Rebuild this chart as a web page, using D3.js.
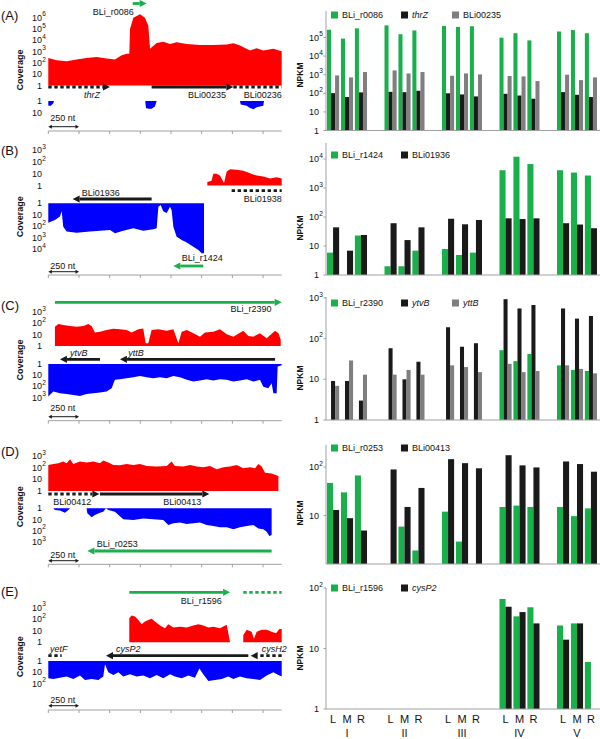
<!DOCTYPE html>
<html><head><meta charset="utf-8">
<script src="https://cdnjs.cloudflare.com/ajax/libs/d3/7.8.5/d3.min.js"></script>
<style>body{margin:0;background:#fff}svg{display:block;font-family:"Liberation Sans",Arial,sans-serif}</style>
</head><body><svg id="c" width="600" height="739"></svg>
<script>
// ---------------- DATA ----------------
const groups = ["I","II","III","IV","V"];
const samples = ["L","M","R"];

// NPKM bar values, order: I-L,I-M,I-R, II-L ... V-R
const seriesA = ["BLi_r0086","thrZ","BLi00235"];
const valuesA = [
  [2.6e5,8.7e4,3.1e5, 4.5e5,1.5e5,2.4e5, 4.2e5,3.7e5,4.0e5, 9.8e4,1.7e5,7e4, 2.1e5,2.5e5,1.7e5],
  [102,63,112, 120,115,137, 100,87,68, 94,76,51, 116,83,63],
  [915,715,1390, 1700,1170,1390, 880,1170,1040, 850,810,455, 1000,510,715]
];
const seriesB = ["BLi_r1424","BLi01936"];
const valuesB = [
  [5.9,null,23, 2.0,2.0,6.9, 7.9,4.9,5.9, 4100,12000,6700, 4100,3400,2700],
  [44,6.9,24, 61,16,44, 87,56,79, 90,85,90, 61,55,41]
];
const seriesC = ["BLi_r2390","ytvB","yttB"];
const valuesC = [
  [null,null,null, null,null,null, null,null,null, 52,28,42, 22,17,16],
  [9.1,9.1,3.0, 58,10,27, 190,63,77, 930,550,670, 550,310,360],
  [6.9,29,13, 13,17,13, 22,20,15, 24,15,16, 22,18,14]
];
const seriesD = ["BLi_r0253","BLi00413"];
const valuesD = [
  [47,30,67, null,5.9,1.9, 12,2.9,null, 15,16,15, 15,9.7,14],
  [13,8.8,4.9, 89,15,37, 145,120,94, 175,108,98, 130,115,80]
];
const seriesE = ["BLi_r1596","cysP2"];
const valuesE = [
  [null,null,null, null,null,null, null,null,null, 66,34,48, 24,26,6.0],
  [null,null,null, null,null,null, null,null,null, 49,40,26, 14,26,null]
];

// Coverage profiles [nt, coverage]; plus = red (upward), minus = blue (downward)
const covA_plus = [[0,269],[68,170],[149,138],[231,195],[312,269],[394,331],[476,240],[543,195],[598,468],[639,646],[660,646],[666,1e5],[693,1e6],[747,2e6],[788,1e6],[815,1.9e5],[829,1780],[883,5900],[937,7600],[992,4800],[1046,6800],[1128,4800],[1236,3900],[1345,3900],[1454,4200],[1508,5500],[1562,3500],[1644,1260],[1698,2000],[1752,1260],[1834,1780],[1902,1100]];
const covA_minus = [[0,2.5],[20,2.5],[40,1.6],[46,1],[790,1],[796,4],[815,4.5],[842,4.5],[869,3],[883,1],[1562,1],[1568,2],[1617,2.5],[1644,4],[1671,5],[1698,3.5],[1725,3],[1752,2.5],[1758,1]];
const covB_plus = [[1296,2],[1330,2.5],[1345,10],[1372,10],[1399,7],[1432,1.6],[1454,16],[1481,25],[1535,22],[1589,18],[1644,11],[1698,7],[1752,6],[1807,4],[1861,5],[1902,4]];
const covB_minus = [[0,48],[54,28],[95,14],[109,5],[122,107],[149,290],[231,355],[340,290],[421,240],[503,210],[543,400],[611,240],[693,150],[774,240],[856,180],[883,150],[897,2],[916,1.4],[937,5],[965,7],[992,2],[1005,4],[1019,107],[1046,800],[1087,1550],[1128,2600],[1182,5900],[1223,11500],[1250,22000],[1269,22000]];
const covC_plus = [[54,49],[82,83],[122,69],[177,56],[231,49],[285,56],[326,83],[353,56],[380,15],[421,18],[475,25],[530,33],[584,29],[638,25],[679,15],[734,29],[774,35],[793,1.7],[815,1.7],[842,25],[897,29],[965,22],[1019,29],[1060,1.7],[1087,18],[1128,25],[1182,13],[1236,6.6],[1277,15],[1345,18],[1399,29],[1454,11],[1508,6.6],[1589,22],[1630,7.4],[1671,6.6],[1725,13],[1780,4.7],[1848,22],[1875,13],[1894,3.8]];
const covC_minus = [[0,810],[41,290],[95,410],[149,470],[204,575],[258,710],[312,470],[367,410],[421,355],[475,290],[516,150],[543,26],[584,23],[638,19],[693,15],[747,12],[802,15],[856,19],[910,15],[965,19],[1019,12],[1073,15],[1128,26],[1182,37],[1236,30],[1291,23],[1345,30],[1399,23],[1454,26],[1508,37],[1562,30],[1617,23],[1671,37],[1725,26],[1752,105],[1793,150],[1820,52],[1834,410],[1861,410],[1869,1.7],[1902,1.3]];
const covD_plus = [[0,170],[41,205],[82,235],[122,325],[149,235],[177,510],[204,205],[258,325],[312,270],[367,325],[421,235],[448,400],[489,270],[530,170],[584,160],[638,205],[693,170],[747,205],[802,138],[883,123],[965,138],[1005,325],[1032,138],[1100,123],[1155,170],[1209,123],[1263,107],[1318,138],[1372,72],[1427,107],[1481,123],[1535,170],[1589,87],[1644,107],[1685,87],[1712,205],[1739,123],[1766,37],[1820,32],[1875,19]];
const covD_minus = [[0,1],[41,1],[54,1.4],[95,1.6],[136,2.5],[163,1.4],[177,1],[312,1],[318,2.8],[353,6.3],[380,4],[421,2.5],[448,2],[470,1],[489,1.4],[543,2],[611,9.5],[693,11],[774,8],[856,9.5],[937,11],[978,31],[1019,22],[1073,19],[1128,25],[1182,22],[1236,19],[1291,31],[1345,38],[1399,50],[1454,50],[1508,76],[1562,50],[1617,38],[1671,31],[1712,62],[1752,76],[1780,123],[1801,300],[1820,245]];
const covE_plus = [[660,117],[679,200],[706,166],[734,85],[761,36],[788,62],[815,85],[842,105],[869,62],[910,28],[951,16],[978,36],[1019,19],[1073,22],[1128,19],[1182,28],[1223,36],[1263,28],[1304,19],[1345,22],[1399,16],[1454,32],[1470,4.3],[1481,1],[1485,null],[1589,4.3],[1617,12],[1657,8.3],[1676,2],[1698,8.3],[1739,12],[1780,12],[1820,8.3],[1856,6],[1883,14],[1902,14]];
const covE_minus = [[0,34],[41,39],[95,30],[149,24],[204,39],[258,19.5],[299,48],[353,39],[408,48],[448,24],[462,1.9],[489,10],[530,17],[571,10],[611,24],[666,15],[720,24],[774,19.5],[829,34],[883,17],[937,34],[992,15],[1032,24],[1087,34],[1141,19.5],[1195,30],[1231,4.5],[1263,15],[1304,58],[1359,48],[1413,39],[1467,24],[1508,39],[1562,24],[1617,34],[1671,39],[1725,48],[1780,19.5],[1834,10],[1875,17],[1902,24]];

// Annotated features (nt coordinates, from -> to gives direction)
const featA = [
  {name:"thrZ", from:0, to:503, kind:"gene", partial:true, head:true},
  {name:"BLi00235", from:842, to:1508, kind:"gene", partial:false, head:true},
  {name:"BLi00236", from:1508, to:1902, kind:"gene", partial:true, head:false},
  {name:"BLi_r0086", from:688, to:802, kind:"srna", partial:false, head:true}
];
const featB = [
  {name:"BLi01936", from:842, to:198, kind:"gene", partial:false, head:true},
  {name:"BLi01938", from:1494, to:1902, kind:"gene", partial:true, head:false},
  {name:"BLi_r1424", from:1263, to:1019, kind:"srna", partial:false, head:true}
];
const featC = [
  {name:"BLi_r2390", from:54, to:1902, kind:"srna", partial:false, head:true},
  {name:"ytvB", from:421, to:95, kind:"gene", partial:false, head:true},
  {name:"yttB", from:1848, to:584, kind:"gene", partial:false, head:true}
];
const featD = [
  {name:"BLi00412", from:0, to:416, kind:"gene", partial:true, head:true},
  {name:"BLi00413", from:421, to:1312, kind:"gene", partial:false, head:true},
  {name:"BLi_r0253", from:1820, to:318, kind:"srna", partial:false, head:true}
];
const featE = [
  {name:"BLi_r1596", from:660, to:1481, kind:"srna", partial:false, head:true},
  {name:"BLi_r1596 (cont.)", from:1589, to:1902, kind:"srna", partial:true, head:false},
  {name:"yetF", from:0, to:109, kind:"gene", partial:true, head:false},
  {name:"cysP2", from:1630, to:470, kind:"gene", partial:false, head:true},
  {name:"cysH2", from:1902, to:1649, kind:"gene", partial:true, head:true}
];
const regionLength = 1902; // nt shown
const scaleBarNt = 250;

// ---------------- STYLE ----------------
const GREEN="#19b04b", RED="#ff0000", BLUE="#0000ff", BLACK="#1a1a1a", GRAY="#7f7f7f", AXIS="#a0a0a0", TXT="#111";
const svg = d3.select("#c");
const xL = d3.scaleLinear().domain([0, regionLength]).range([48.3, 281.7]);

function powText(g, v, xEnd, y, size, supSize){
  const e = Math.round(Math.log10(v));
  if (e <= 1){
    g.append("text").attr("x", xEnd).attr("y", y).attr("text-anchor","end")
      .attr("dominant-baseline","central").style("font-size", size+"px").attr("fill",TXT).text(e===0?"1":"10");
  } else {
    g.append("text").attr("x", xEnd).attr("y", y).attr("text-anchor","end")
      .attr("dominant-baseline","central").style("font-size", size+"px").attr("fill",TXT).text("10");
    g.append("text").attr("x", xEnd+0.3).attr("y", y - size*0.42).attr("text-anchor","start")
      .attr("dominant-baseline","central").style("font-size", supSize+"px").attr("fill",TXT).text(e);
  }
}

function arrow(g, x1, x2, y, color, dashed, head){
  const dir = x2 > x1 ? 1 : -1;
  const hl = head ? 7 : 0, hh = 3.6;
  g.append("line").attr("x1", x1).attr("x2", x2 - dir*hl).attr("y1", y).attr("y2", y)
    .attr("stroke", color).attr("stroke-width", 2.8)
    .attr("stroke-dasharray", dashed ? "3.4,2.6" : null);
  if (head){
    g.append("path").attr("fill", color)
      .attr("d", `M${x2},${y}L${x2-dir*hl},${y-hh}L${x2-dir*hl},${y+hh}Z`);
  }
}

// ---------------- LEFT PANELS ----------------
const LEFT = [
  {id:"(A)", idY:15, plus:covA_plus, minus:covA_minus, feats:featA,
   pBase:85.5, pDec:11.3, pTicks:[1,10,1e2,1e3,1e4,1e5,1e6], mBase:101, mDec:11.7, mTicks:[1,10],
   covY:70, axisY:131, barY:126.7, barTextY:118,
   fy:{"thrZ":87,"BLi00235":87,"BLi00236":87,"BLi_r0086":3.5},
   lab:{"thrZ":[421,95.3,"end"],"BLi00235":[1448,95.3,"end"],"BLi00236":[1902,95.3,"end"],"BLi_r0086":[530,11.7,"middle"]}},
  {id:"(B)", idY:150, plus:covB_plus, minus:covB_minus, feats:featB,
   pBase:185.5, pDec:11.7, pTicks:[1,10,1e2,1e3], mBase:203.3, mDec:11.5, mTicks:[1,10,1e2,1e3,1e4],
   covY:216.7, axisY:275, barY:271.7, barTextY:266,
   fy:{"BLi01936":199,"BLi01938":190.7,"BLi_r1424":266},
   lab:{"BLi01936":[272,193,"start"],"BLi01938":[1902,199.3,"end"],"BLi_r1424":[1087,258.3,"start"]}},
  {id:"(C)", idY:305, plus:covC_plus, minus:covC_minus, feats:featC,
   pBase:346, pDec:11.4, pTicks:[1,10,1e2,1e3], mBase:364, mDec:11.2, mTicks:[1,10,1e2,1e3],
   covY:360, axisY:420.7, barY:416.7, barTextY:408.3,
   fy:{"BLi_r2390":302.3,"ytvB":359.3,"yttB":359.3},
   lab:{"BLi_r2390":[1820,309.3,"end"],"ytvB":[177,352.7,"start"],"yttB":[652,352.7,"start"]}},
  {id:"(D)", idY:451.7, plus:covD_plus, minus:covD_minus, feats:featD,
   pBase:491, pDec:11.7, pTicks:[1,10,1e2,1e3], mBase:508.3, mDec:11.2, mTicks:[1,10,1e2,1e3],
   covY:506.7, axisY:564.3, barY:560.7, barTextY:555,
   fy:{"BLi00412":494,"BLi00413":494,"BLi_r0253":551},
   lab:{"BLi00412":[41,501.7,"start"],"BLi00413":[937,501.7,"start"],"BLi_r0253":[394,544.3,"start"]}},
  {id:"(E)", idY:591.7, plus:covE_plus, minus:covE_minus, feats:featE,
   pBase:642.3, pDec:11.6, pTicks:[1,10,1e2,1e3], mBase:661, mDec:11.3, mTicks:[1,10,1e2],
   covY:656.7, axisY:710, barY:705.7, barTextY:700,
   fy:{"BLi_r1596":592.3,"BLi_r1596 (cont.)":592.3,"yetF":655.7,"cysP2":655.7,"cysH2":655.7},
   lab:{"BLi_r1596":[1413,600.7,"end"],"yetF":[14,649.3,"start"],"cysP2":[552,649.3,"start"],"cysH2":[1943,649.3,"end"]}}
];

LEFT.forEach(p => {
  const g = svg.append("g");
  const yP = d3.scaleLog().domain([1,10]).range([p.pBase, p.pBase - p.pDec]);
  const yM = d3.scaleLog().domain([1,10]).range([p.mBase, p.mBase + p.mDec]);
  g.append("path").datum(p.plus).attr("fill", RED)
    .attr("d", d3.area().defined(d => d[1] != null).x(d => xL(d[0])).y0(yP(1)).y1(d => yP(Math.max(1, d[1]))));
  g.append("path").datum(p.minus).attr("fill", BLUE)
    .attr("d", d3.area().defined(d => d[1] != null).x(d => xL(d[0])).y0(yM(1)).y1(d => yM(Math.max(1, d[1]))));
  p.pTicks.forEach(v => powText(g, v, 42, yP(v), 9, 6.5));
  p.mTicks.forEach(v => powText(g, v, 42, yM(v), 9, 6.5));
  // features
  p.feats.forEach(f => {
    const col = f.kind === "srna" ? GREEN : BLACK;
    arrow(g, xL(f.from), xL(f.to), p.fy[f.name], col, f.partial, f.head);
    const l = p.lab[f.name];
    if (l){
      g.append("text").attr("x", xL(l[0])).attr("y", l[1]).attr("text-anchor", l[2])
        .attr("dominant-baseline","central").style("font-size","9px")
        .style("font-style", /^[a-z]/.test(f.name) ? "italic" : "normal").attr("fill",TXT).text(f.name);
    }
  });
  // axis
  g.append("line").attr("x1", xL(0)).attr("x2", xL(regionLength)).attr("y1", p.axisY).attr("y2", p.axisY)
    .attr("stroke", AXIS).attr("stroke-width", 1);
  d3.range(0, regionLength, 250).forEach(t => {
    g.append("line").attr("x1", xL(t)).attr("x2", xL(t)).attr("y1", p.axisY).attr("y2", p.axisY + 3)
      .attr("stroke", AXIS).attr("stroke-width", 1);
  });
  // scale bar
  const sb0 = xL(0), sb1 = xL(scaleBarNt);
  g.append("line").attr("x1", sb0 + 2).attr("x2", sb1 - 2).attr("y1", p.barY).attr("y2", p.barY).attr("stroke", BLACK).attr("stroke-width", 1);
  g.append("path").attr("fill", BLACK).attr("d", `M${sb0},${p.barY}L${sb0+3.5},${p.barY-2}L${sb0+3.5},${p.barY+2}Z`);
  g.append("path").attr("fill", BLACK).attr("d", `M${sb1},${p.barY}L${sb1-3.5},${p.barY-2}L${sb1-3.5},${p.barY+2}Z`);
  g.append("text").attr("x", sb0 + 2).attr("y", p.barTextY).attr("dominant-baseline","central")
    .style("font-size","9px").attr("fill",TXT).text(scaleBarNt + " nt");
  // labels
  g.append("text").attr("transform", `translate(20,${p.covY}) rotate(-90)`).attr("text-anchor","middle")
    .attr("dominant-baseline","central").style("font-size","9px").style("font-weight","bold").attr("fill",TXT).text("Coverage");
  g.append("text").attr("x", 1).attr("y", p.idY).attr("dominant-baseline","central")
    .style("font-size","13px").attr("fill",TXT).text(p.id);
});

// ---------------- RIGHT PANELS ----------------
const xG = d3.scaleBand().domain(groups).range([327, 597]).paddingInner(0.304).paddingOuter(0);
const xS = d3.scaleBand().domain(samples).range([0, xG.bandwidth()]).paddingInner(0.13).paddingOuter(0);
const colorsBy = [GREEN, BLACK, GRAY];
const AXX = 326;

const RIGHT = [
  {series:seriesA, values:valuesA, base:130.5, dec:18.6, top:11, ticks:[1,10,1e2,1e3,1e4,1e5], legendY:15, npkmY:75},
  {series:seriesB, values:valuesB, base:275, dec:29, top:143, ticks:[1,10,1e2,1e3,1e4], legendY:155, npkmY:228},
  {series:seriesC, values:valuesC, base:420, dec:40.7, top:297, ticks:[1,10,1e2,1e3], legendY:303, npkmY:378},
  {series:seriesD, values:valuesD, base:564, dec:48.5, top:445, ticks:[10,1e2], legendY:448, npkmY:513},
  {series:seriesE, values:valuesE, base:709, dec:60.5, top:588, ticks:[1,10,1e2], legendY:588, npkmY:658}
];

RIGHT.forEach((p, pi) => {
  const g = svg.append("g");
  const y = d3.scaleLog().domain([1,10]).range([p.base, p.base - p.dec]);
  const xR = d3.scaleBand().domain(p.series).range([0, xS.bandwidth()]);
  const recs = [];
  p.series.forEach((s, si) => p.values[si].forEach((v, k) => {
    if (v == null) return;
    recs.push({s, si, v, grp: groups[Math.floor(k/3)], smp: samples[k%3]});
  }));
  g.selectAll("rect").data(recs).join("rect")
    .attr("x", d => xG(d.grp) + xS(d.smp) + xR(d.s))
    .attr("width", xR.bandwidth())
    .attr("y", d => y(d.v))
    .attr("height", d => y(1) - y(d.v))
    .attr("fill", d => colorsBy[d.si]);
  // axes
  g.append("line").attr("x1", AXX).attr("x2", AXX).attr("y1", y(1)).attr("y2", p.top).attr("stroke", AXIS);
  g.append("line").attr("x1", AXX).attr("x2", 600).attr("y1", y(1)).attr("y2", y(1)).attr("stroke", AXIS);
  p.ticks.forEach(v => {
    g.append("line").attr("x1", AXX - 2.5).attr("x2", AXX).attr("y1", y(v)).attr("y2", y(v)).attr("stroke", AXIS);
    powText(g, v, 319, y(v), 9, 6.5);
  });
  g.append("text").attr("transform", `translate(300,${p.npkmY}) rotate(-90)`).attr("text-anchor","middle")
    .attr("dominant-baseline","central").style("font-size","8.5px").style("font-weight","bold").attr("fill",TXT).text("NPKM");
  // legend
  const lx = [331, 401, 452];
  p.series.forEach((s, si) => {
    g.append("rect").attr("x", lx[si]).attr("y", p.legendY - 3.5).attr("width", 7).attr("height", 7).attr("fill", colorsBy[si]);
    g.append("text").attr("x", lx[si] + 11).attr("y", p.legendY).attr("dominant-baseline","central")
      .style("font-size","9px").style("font-style", /^[a-z]/.test(s) ? "italic" : "normal").attr("fill",TXT).text(s);
  });
  if (pi === RIGHT.length - 1){
    groups.forEach(gr => {
      samples.forEach(sm => {
        g.append("text").attr("x", xG(gr) + xS(sm) + xS.bandwidth()/2).attr("y", 719).attr("text-anchor","middle")
          .attr("dominant-baseline","central").style("font-size","11px").attr("fill",TXT).text(sm);
      });
      g.append("text").attr("x", xG(gr) + xG.bandwidth()/2).attr("y", 732.5).attr("text-anchor","middle")
        .attr("dominant-baseline","central").style("font-size","11px").attr("fill",TXT).text(gr);
    });
  }
});
</script>
</body></html>
